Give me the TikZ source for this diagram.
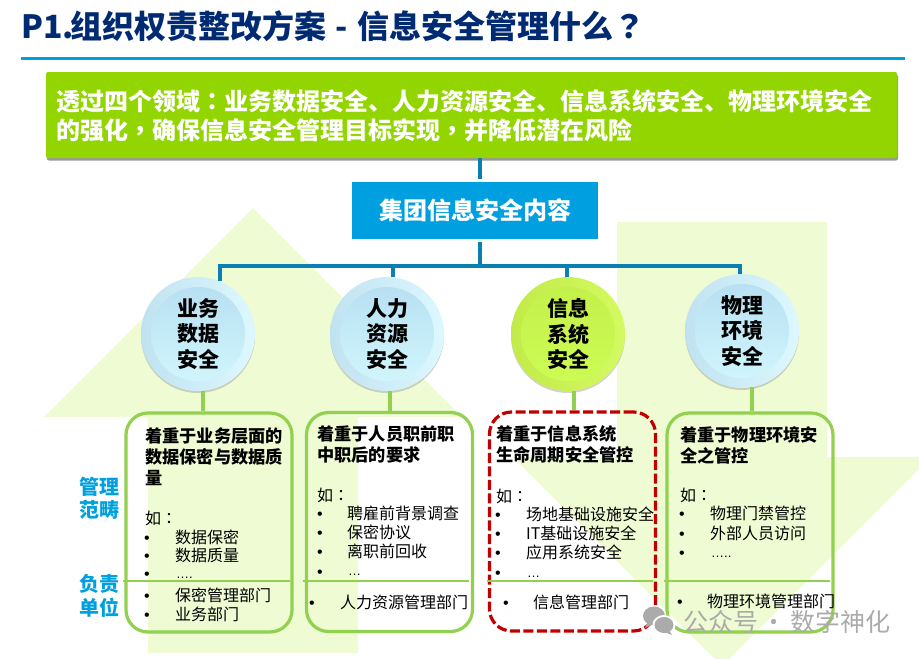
\documentclass[tikz,border=0pt]{standalone}
\usepackage{fontspec}
\setmainfont{Noto Sans CJK SC}
\newfontfamily\puncfont{Noto Sans CJK TC}
\newfontfamily\dotfont{Liberation Sans}
\usetikzlibrary{shadows}
\definecolor{navy}{HTML}{002B73}
\definecolor{skyblue}{HTML}{00A0E0}
\definecolor{busblue}{HTML}{0A7FB2}
\definecolor{leafgreen}{HTML}{92D500}
\definecolor{stemgreen}{HTML}{92D050}
\definecolor{palegreen}{HTML}{EFFBD3}
\definecolor{darkred}{HTML}{C00000}
\definecolor{markgray}{HTML}{ABABAB}
\definecolor{rimblueA}{HTML}{C0E2F0}
\definecolor{rimblueB}{HTML}{DDF8FF}
\definecolor{discblueA}{HTML}{B8E0F2}
\definecolor{discblueB}{HTML}{D0F5FC}
\definecolor{rimlimeA}{HTML}{C2EA48}
\definecolor{rimlimeB}{HTML}{D4FA62}
\definecolor{disclimeA}{HTML}{C4F04A}
\definecolor{disclimeB}{HTML}{CCFC54}
\newcommand{\zcolon}{{\puncfont ：}}
\newcommand{\zcomma}{{\puncfont ，}}
\tikzset{
  busline/.style={draw=busblue, line width=3.5pt},
  stemline/.style={draw=stemgreen, line width=3.2pt},
  bubble/.style={circle, minimum size=114pt, inner sep=0pt,
    drop shadow={shadow xshift=0pt, shadow yshift=-2pt, opacity=0.35, fill=gray}},
  bluebubble/.style={bubble, left color=rimblueA, right color=rimblueB},
  limebubble/.style={bubble, left color=rimlimeA, right color=rimlimeB},
  bubbletext/.style={circle, minimum size=94pt, inner sep=0pt, font=\bfseries\fontsize{21}{25.5}\selectfont, align=center, text=black},
  bluedisc/.style={bubbletext, top color=discblueA, bottom color=discblueB},
  limedisc/.style={bubbletext, top color=disclimeA, bottom color=disclimeB},
  areabox/.style={draw=stemgreen, line width=3.2pt, rounded corners=22pt, minimum width=166pt, minimum height=219pt, inner sep=0pt},
  headtext/.style={anchor=west, inner sep=0pt, align=left, font=\bfseries\fontsize{17.2}{20.7}\selectfont},
  itemtext/.style={anchor=west, inner sep=0pt, font=\fontsize{16}{19}\selectfont},
  bulletmark/.style={anchor=center, inner sep=0pt, yshift=-3pt, font=\dotfont\fontsize{16}{19}\selectfont},
  dotstext/.style={anchor=west, inner sep=0pt, font=\dotfont\fontsize{13}{15}\selectfont},
  sidetext/.style={font=\bfseries\fontsize{20}{23.5}\selectfont, text=skyblue, align=center, inner sep=0pt},
}
\begin{document}
\begin{tikzpicture}[x=1pt, y=-1pt]
  \useasboundingbox (0,0) rectangle (919,659);
  \begin{scope}
    \clip (0,0) rectangle (919,659);
    \fill[palegreen] (253,208) -- (462,417) -- (358,417) -- (358,653) -- (148,653) -- (148,417) -- (44,417) -- cycle;
    \fill[palegreen] (617,222) -- (827,222) -- (827,457) -- (931,457) -- (722,666) -- (513,457) -- (617,457) -- cycle;
  \end{scope}

  \node[anchor=west, inner sep=0pt, text=navy, font=\bfseries\fontsize{32}{36}\selectfont] (title) at (21,26) {P1.\hspace{-3pt}组织权责整改方案\hspace{9pt}-\hspace{9pt}信息安全管理什么{\puncfont ？}};
  \coordinate (ruleL) at (21,58);
  \coordinate (ruleR) at (905,58);
  \draw[skyblue, line width=3pt] (ruleL) -- (ruleR);

  \node[minimum width=851pt, minimum height=86pt, inner sep=0pt, fill=leafgreen, rounded corners=2pt,
    drop shadow={shadow xshift=1pt, shadow yshift=-2.5pt, opacity=0.4, fill=black}] (goal) at (471.5,115) {};
  \node[anchor=west, inner sep=0pt, align=left, text=white, font=\bfseries\fontsize{24}{29}\selectfont] (goaltext) at (56,115.5)
    {透过四个领域\zcolon 业务数据安全、人力资源安全、信息系统安全、物理环境安全\\的强化\zcomma 确保信息安全管理目标实现\zcomma 并降低潜在风险};

  \node[minimum width=246pt, minimum height=57pt, inner sep=0pt, fill=skyblue, text=white, font=\bfseries\fontsize{24}{28}\selectfont] (scope) at (475,210.5) {集团信息安全内容};

  \node[bluebubble] (c1) at (198,334) {};
  \node[bluebubble] (c2) at (387,334) {};
  \node[limebubble] (c3) at (568,334) {};
  \node[bluebubble] (c4) at (742,331) {};
  \node[bluedisc] (t1) at (c1) {业务\\数据\\安全};
  \node[bluedisc] (t2) at (c2) {人力\\资源\\安全};
  \node[limedisc] (t3) at (c3) {信息\\系统\\安全};
  \node[bluedisc] (t4) at (c4) {物理\\环境\\安全};

  % bus from the banner down to the four bubbles
  \coordinate (busA) at (480,179);
  \coordinate (busB) at (480,242);
  \coordinate (busC) at (480,266);
  \coordinate (drop1) at (220,266);
  \coordinate (drop2) at (393,266);
  \coordinate (drop3) at (567,266);
  \coordinate (drop4) at (740,266);
  \draw[busline] (busA |- goal.south) -- (busA);
  \draw[busline] (busB) -- (busC);
  \draw[busline] (drop1 |- c1.67) -- (drop1) -- (drop4) -- (drop4 |- c4.92);
  \draw[busline] (drop2) -- (drop2 |- c2.84);
  \draw[busline] (drop3) -- (drop3 |- c3.91);

  \node[areabox] (b1) at (209,522.5) {};
  \node[areabox] (b2) at (389.5,522) {};
  \node[areabox, draw=darkred, dash pattern=on 10pt off 3.5pt] (b3) at (572.5,521.5) {};
  \node[areabox] (b4) at (750,522.5) {};

  \coordinate (stem1) at (203,391);
  \coordinate (stem2) at (390,391);
  \coordinate (stem3) at (574,391);
  \coordinate (stem4) at (752,388);
  \draw[stemline] (stem1 |- c1.-85) -- (stem1 |- b1.north);
  \draw[stemline] (stem2 |- c2.-87) -- (stem2 |- b2.north);
  \draw[stemline] (stem3 |- c3.-84) -- (stem3 |- b3.north);
  \draw[stemline] (stem4 |- c4.-80) -- (stem4 |- b4.north);

  \node[headtext] (h1) at (145,456.5) {着重于业务层面的\\数据保密与数据质\\量};
  \node[headtext] (h2) at (317,444.5) {着重于人员职前职\\中职后的要求};
  \node[headtext] (h3) at (496,444.5) {着重于信息系统\\生命周期安全管控};
  \node[headtext] (h4) at (680,445.5) {着重于物理环境安\\全之管控};

  \node[itemtext] (r1) at (145,518) {如\zcolon};
  \node[itemtext] (r2) at (317,495) {如\zcolon};
  \node[itemtext] (r3) at (496,496) {如\zcolon};
  \node[itemtext] (r4) at (680,495) {如\zcolon};

  % bullet x / text x / y / wording
  \foreach \bx/\tx/\y/\t [count=\i] in {
    147/175/537/数据保密, 147/175/555/数据质量,
    147/175/595/保密管理部门, 147/175/614/业务部门,
    320/347/513/聘雇前背景调查, 320/347/532/保密协议, 320/347/551/离职前回收,
    312/340/602/人力资源管理部门,
    498/526/514/场地基础设施安全, 498/526/533/IT基础设施安全, 498/526/552/应用系统安全,
    506/533/602/信息管理部门,
    682/710/513/物理门禁管控, 682/710/533/外部人员访问,
    680/707/601/物理环境管理部门}{
    \node[bulletmark] (dot\i) at (\bx,\y) {•};
    \node[itemtext] (item\i) at (\tx,\y) {\t};
  }
  % the unfinished rows sit lower than their bullets
  \foreach \bx/\by/\tx/\ty/\t [count=\i] in {
    147/573/176/578/…., 320/571/348/575/…, 498/572/527/577/…, 682/552/711/557/…..}{
    \node[bulletmark] (more\i) at (\bx,\by) {•};
    \node[dotstext] (rest\i) at (\tx,\ty) {\t};
  }

  \coordinate (rowL1) at (123,581);
  \coordinate (rowR1) at (290,581);
  \coordinate (rowL2) at (303,581);
  \coordinate (rowR2) at (469,581);
  \coordinate (rowL3) at (487,581);
  \coordinate (rowR3) at (653,581);
  \coordinate (rowL4) at (664,581);
  \coordinate (rowR4) at (830,581);
  \foreach \i in {1,...,4}{
    \draw[stemline, line width=2.7pt] (rowL\i) -- (rowR\i);
  }

  \node[sidetext] (s1) at (99,498.5) {管理\\范畴};
  \node[sidetext] (s2) at (99,596) {负责\\单位};

  % watermark
  \fill[markgray] (654,616) ellipse (11pt and 9.5pt);
  \fill[markgray] (648,622) -- (645,628) -- (653,624) -- cycle;
  \fill[white] (664,625) ellipse (11.5pt and 10pt);
  \fill[markgray] (664,625) ellipse (9.5pt and 8pt);
  \fill[markgray] (669,630) -- (672,635) -- (664,632) -- cycle;
  \node[anchor=west, inner sep=0pt, text=markgray, font=\fontsize{25}{28}\selectfont] (mark) at (683,622) {公众号\hspace{3.5pt}·\hspace{3.5pt}数字神化};
\end{tikzpicture}
\end{document}
